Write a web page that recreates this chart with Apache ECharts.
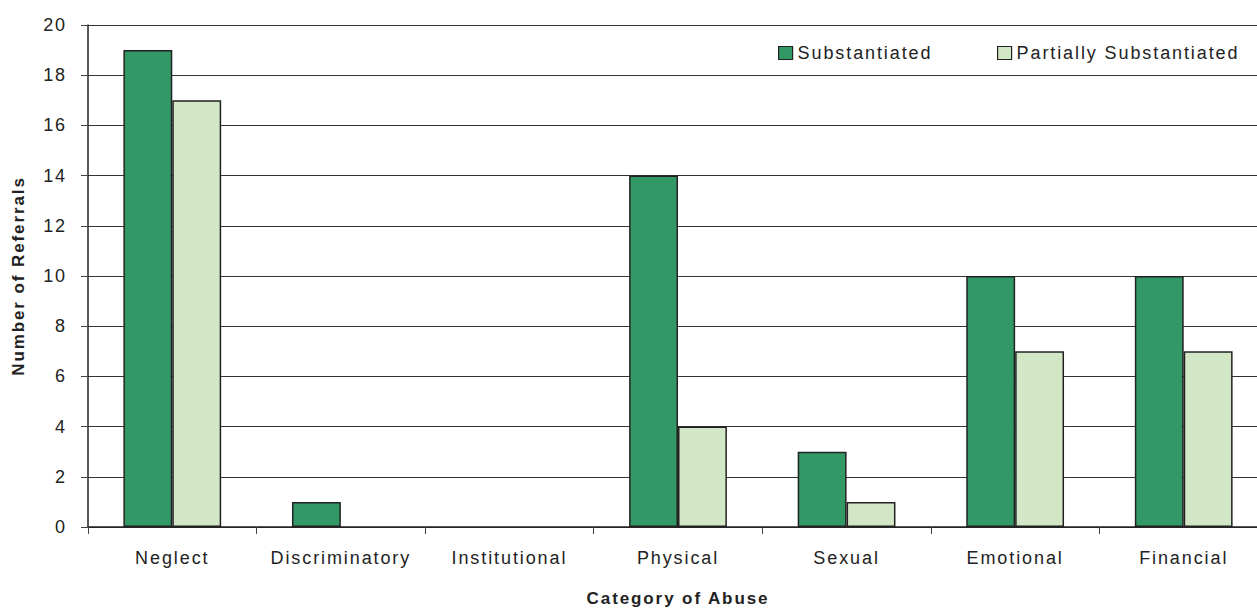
<!DOCTYPE html>
<html><head><meta charset="utf-8">
<script src="https://cdn.jsdelivr.net/npm/echarts@6/dist/echarts.min.js"></script>
<style>
html,body{margin:0;padding:0;background:#fff}
#c{width:1257px;height:609px;overflow:hidden}
#c svg text{letter-spacing:1.9px}
</style>
</head><body><div id="c"></div>
<script>
const categories = ['Neglect','Discriminatory','Institutional','Physical','Sexual','Emotional','Financial'];
const substantiated = [19, 1, 0, 14, 3, 10, 10];
const partiallySubstantiated = [17, 0, 0, 4, 1, 7, 7];
const yTicks = [0,2,4,6,8,10,12,14,16,18,20];

const chart = echarts.init(document.getElementById('c'), null, {renderer:'svg'});
const font = 'Liberation Sans, Arial, sans-serif';
const legendText = {fontSize:18, color:'#222', fontFamily:font};
const toBar = v => v === 0 ? '-' : v;
chart.setOption({
  animation:false,
  textStyle:{fontFamily:font},
  legend:[
    {left:773, top:39, itemWidth:14, itemHeight:13, textStyle:legendText,
     data:[{name:'Substantiated', icon:'rect', itemStyle:{borderColor:'#222',borderWidth:1.2}}]},
    {left:992, top:39, itemWidth:14, itemHeight:13, textStyle:legendText,
     data:[{name:'Partially Substantiated', icon:'rect', itemStyle:{borderColor:'#222',borderWidth:1.2}}]}
  ],
  grid:{left:88, top:25, width:1180, height:502, containLabel:false, outerBoundsMode:'none'},
  xAxis:{
    type:'category', data:categories,
    name:'Category of Abuse', nameLocation:'middle', nameGap:63,
    nameTextStyle:{fontSize:17, fontWeight:'bold', color:'#222', fontFamily:font},
    axisLine:{lineStyle:{color:'#222', width:1.5}},
    axisTick:{show:true, length:7, lineStyle:{color:'#444'}},
    axisLabel:{fontSize:18, color:'#222', margin:22, fontFamily:font},
    splitLine:{show:false}
  },
  yAxis:{
    type:'value', min:0, max:20, interval:2,
    name:'Number of Referrals', nameLocation:'middle', nameGap:61, nameRotate:90,
    nameTextStyle:{fontSize:17, fontWeight:'bold', color:'#222', fontFamily:font},
    axisLine:{show:true, lineStyle:{color:'#222', width:1.5}},
    axisTick:{show:true, length:7, lineStyle:{color:'#444'}},
    axisLabel:{fontSize:18, color:'#222', margin:21, fontFamily:font,
      formatter:v=> yTicks.includes(v) ? String(v) : ''},
    splitLine:{show:true, lineStyle:{color:'#333', width:1}}
  },
  series:[
    {name:'Substantiated', type:'bar', data:substantiated.map(toBar), barGap:'0%', barCategoryGap:'42%',
     itemStyle:{color:'#329966', borderColor:'#222', borderWidth:1.5}},
    {name:'Partially Substantiated', type:'bar', data:partiallySubstantiated.map(toBar),
     itemStyle:{color:'#D2E7C6', borderColor:'#222', borderWidth:1.5}}
  ]
});
</script></body></html>
